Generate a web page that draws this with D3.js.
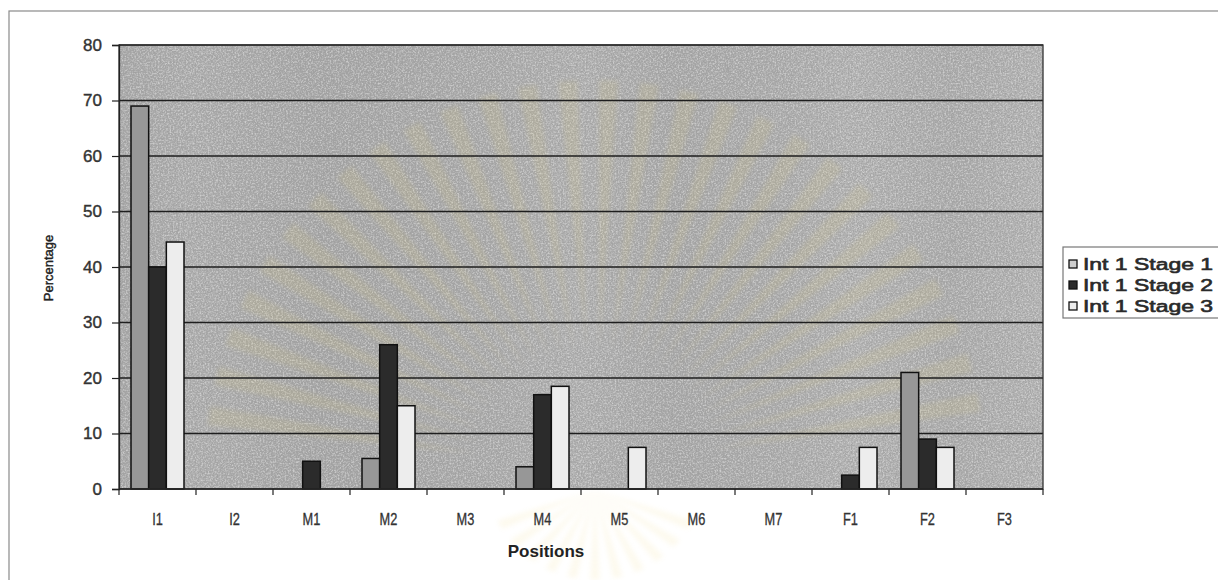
<!DOCTYPE html>
<html>
<head>
<meta charset="utf-8">
<script src="https://cdn.jsdelivr.net/npm/d3@7"></script>
<style>
    body { margin: 0; background: #fff; }
    svg { display: block; font-family: "Liberation Sans", Arial, sans-serif; }
</style>
</head>
<body>
<div id="chart"></div>
<script>
// 数据
var positions = ['I1', 'I2', 'M1', 'M2', 'M3', 'M4', 'M5', 'M6', 'M7', 'F1', 'F2', 'F3'];
var seriesNames = ['Int 1 Stage 1', 'Int 1 Stage 2', 'Int 1 Stage 3'];
var stage1 = [69, 0, 0, 5.5, 0, 4, 0, 0, 0, 0, 21, 0];
var stage2 = [40, 0, 5, 26, 0, 17, 0, 0, 0, 2.5, 9, 0];
var stage3 = [44.5, 0, 0, 15, 0, 18.5, 7.5, 0, 0, 7.5, 7.5, 0];
var yTicks = [0, 10, 20, 30, 40, 50, 60, 70, 80];
var seriesColors = ['#979797', '#2b2b2b', '#ededed'];

var W = 1218, H = 580;
var plot = {left: 119, top: 45, right: 1043, bottom: 489};

var svg = d3.select('#chart').append('svg')
    .attr('width', W)
    .attr('height', H);

var defs = svg.append('defs');
// 扫描噪点（暗）
var f = defs.append('filter').attr('id', 'noise').attr('x', 0).attr('y', 0).attr('width', '100%').attr('height', '100%');
f.append('feTurbulence').attr('type', 'fractalNoise').attr('baseFrequency', 0.8).attr('numOctaves', 2).attr('seed', 3).attr('result', 'n');
f.append('feColorMatrix').attr('in', 'n').attr('type', 'matrix')
    .attr('values', '0 0 0 0 0.35  0 0 0 0 0.35  0 0 0 0 0.35  2.6 0 0 0 -1.05');
// 扫描噪点（亮）
var f2 = defs.append('filter').attr('id', 'noise2').attr('x', 0).attr('y', 0).attr('width', '100%').attr('height', '100%');
f2.append('feTurbulence').attr('type', 'fractalNoise').attr('baseFrequency', 0.6).attr('numOctaves', 2).attr('seed', 11).attr('result', 'n');
f2.append('feColorMatrix').attr('in', 'n').attr('type', 'matrix')
    .attr('values', '0 0 0 0 0.9  0 0 0 0 0.9  0 0 0 0 0.9  0 2.6 0 0 -1.1');
// 水印模糊
defs.append('filter').attr('id', 'blur')
    .append('feGaussianBlur').attr('stdDeviation', 2.5);

// 竖向亮带
var grad = defs.append('linearGradient').attr('id', 'bands');
[[0, '#a4a4a4'], [0.08, '#ababab'], [0.22, '#a2a2a2'], [0.4, '#a7a7a7'], [0.5, '#aeaeae'],
 [0.6, '#a5a5a5'], [0.72, '#a9a9a9'], [0.8, '#b1b1b1'], [0.9, '#a8a8a8'], [1, '#b2b2b2']]
    .forEach(function (s) {
        grad.append('stop').attr('offset', s[0]).attr('stop-color', s[1]);
    });

// 外框
svg.append('rect')
    .attr('x', 9).attr('y', 11)
    .attr('width', 1240).attr('height', 620)
    .attr('fill', 'none').attr('stroke', '#8a8a8a').attr('stroke-width', 1.2);

var x = d3.scaleBand().domain(positions).range([plot.left, plot.right]);
var xInner = d3.scaleBand().domain(d3.range(3)).range([12, x.bandwidth() - 12]);
var y = d3.scaleLinear().domain([0, 80]).range([plot.bottom, plot.top]);

// 绘图区背景
var bgW = plot.right - plot.left, bgH = plot.bottom - plot.top;
svg.append('rect')
    .attr('x', plot.left).attr('y', plot.top)
    .attr('width', bgW).attr('height', bgH)
    .attr('fill', 'url(#bands)');
svg.append('rect')
    .attr('x', plot.left).attr('y', plot.top)
    .attr('width', bgW).attr('height', bgH)
    .attr('filter', 'url(#noise)');
svg.append('rect')
    .attr('x', plot.left).attr('y', plot.top)
    .attr('width', bgW).attr('height', bgH)
    .attr('opacity', 0.5)
    .attr('filter', 'url(#noise2)');

// 水印光芒
var wm = svg.append('g').attr('opacity', 0.13).attr('filter', 'url(#blur)');
var cx = 595, cy = 470;
for (var a = -172; a <= -8; a += 6) {
    var r1 = 120, r2 = 390;
    var t1 = (a - 1.4) * Math.PI / 180, t2 = (a + 1.4) * Math.PI / 180;
    wm.append('path')
        .attr('d', 'M' + (cx + r1 * Math.cos(a * Math.PI / 180)) + ',' + (cy + r1 * Math.sin(a * Math.PI / 180)) +
            'L' + (cx + r2 * Math.cos(t1)) + ',' + (cy + r2 * Math.sin(t1)) +
            'L' + (cx + r2 * Math.cos(t2)) + ',' + (cy + r2 * Math.sin(t2)) + 'Z')
        .attr('fill', '#e0cc70');
}
for (var b = 30; b <= 150; b += 12) {
    var s2 = 110;
    var u1 = (b - 2.5) * Math.PI / 180, u2 = (b + 2.5) * Math.PI / 180;
    wm.append('path')
        .attr('d', 'M' + cx + ',' + (cy + 20) +
            'L' + (cx + s2 * Math.cos(u1)) + ',' + (cy + s2 * Math.sin(u1)) +
            'L' + (cx + s2 * Math.cos(u2)) + ',' + (cy + s2 * Math.sin(u2)) + 'Z')
        .attr('fill', '#f0d880');
}

// 网格线
svg.append('g')
    .selectAll('line')
    .data(yTicks.slice(1))
    .join('line')
    .attr('x1', plot.left).attr('x2', plot.right)
    .attr('y1', function (d) { return y(d); })
    .attr('y2', function (d) { return y(d); })
    .attr('stroke', '#1e1e1e').attr('stroke-width', 1.4);

// 柱
var series = [stage1, stage2, stage3];
series.forEach(function (vals, si) {
    svg.append('g')
        .selectAll('rect')
        .data(vals.map(function (v, i) { return {cat: positions[i], v: v}; }).filter(function (d) { return d.v > 0; }))
        .join('rect')
        .attr('x', function (d) { return x(d.cat) + xInner(si); })
        .attr('y', function (d) { return y(d.v); })
        .attr('width', xInner.bandwidth())
        .attr('height', function (d) { return y(0) - y(d.v); })
        .attr('fill', seriesColors[si])
        .attr('stroke', '#111')
        .attr('stroke-width', 1.5);
});

// 绘图区边框
svg.append('rect')
    .attr('x', plot.left).attr('y', plot.top)
    .attr('width', bgW).attr('height', bgH)
    .attr('fill', 'none').attr('stroke', '#333').attr('stroke-width', 1.3);

// 坐标轴
var yAxis = d3.axisLeft(y).tickValues(yTicks).tickSize(7).tickPadding(10);
var gy = svg.append('g')
    .attr('transform', 'translate(' + plot.left + ',0)')
    .call(yAxis);
gy.select('.domain').attr('stroke', '#222').attr('stroke-width', 1.3);
gy.selectAll('.tick line').attr('stroke', '#222').attr('stroke-width', 1.2);
gy.selectAll('text')
    .attr('font-size', 17).attr('fill', '#333')
    .attr('stroke', '#333').attr('stroke-width', 0.4)
    .attr('font-family', '"Liberation Sans", Arial, sans-serif');

var gx = svg.append('g')
    .attr('transform', 'translate(0,' + plot.bottom + ')');
gx.append('line')
    .attr('x1', plot.left).attr('x2', plot.right)
    .attr('stroke', '#222').attr('stroke-width', 1.3);
gx.selectAll('.tk')
    .data(positions.concat(['end']))
    .join('line')
    .attr('class', 'tk')
    .attr('x1', function (d, i) { return plot.left + i * x.bandwidth(); })
    .attr('x2', function (d, i) { return plot.left + i * x.bandwidth(); })
    .attr('y1', 0).attr('y2', 6)
    .attr('stroke', '#222').attr('stroke-width', 1.2);
gx.selectAll('text')
    .data(positions)
    .join('text')
    .attr('x', function (d) { return x(d) + x.bandwidth() / 2; })
    .attr('y', 36)
    .attr('text-anchor', 'middle')
    .attr('font-size', 16)
    .attr('fill', '#333')
    .attr('stroke', '#333').attr('stroke-width', 0.3)
    .attr('transform', function (d) {
        var cxT = x(d) + x.bandwidth() / 2;
        return 'translate(' + cxT + ',0) scale(0.8,1) translate(' + (-cxT) + ',0)';
    })
    .text(function (d) { return d; });

// 轴标题
svg.append('text')
    .attr('x', 546).attr('y', 557)
    .attr('text-anchor', 'middle')
    .attr('font-size', 17).attr('font-weight', 'bold').attr('fill', '#222')
    .text('Positions');

svg.append('text')
    .attr('transform', 'translate(53,268) rotate(-90)')
    .attr('text-anchor', 'middle')
    .attr('font-size', 13).attr('fill', '#222')
    .attr('stroke', '#222').attr('stroke-width', 0.4)
    .text('Percentage');

// 图例
var lg = svg.append('g').attr('transform', 'translate(1063,247)');
lg.append('rect')
    .attr('x', 0).attr('y', 0).attr('width', 200).attr('height', 71)
    .attr('fill', '#fff').attr('stroke', '#777').attr('stroke-width', 1.2);
seriesNames.forEach(function (name, i) {
    var cyL = 17 + i * 21;
    lg.append('rect')
        .attr('x', 6).attr('y', cyL - 4)
        .attr('width', 8).attr('height', 8)
        .attr('fill', i === 0 ? '#cfcfcf' : seriesColors[i])
        .attr('stroke', '#111').attr('stroke-width', 1.3);
    lg.append('text')
        .attr('x', 20).attr('y', cyL + 6)
        .attr('font-size', 16).attr('fill', '#2a2a2a')
        .attr('stroke', '#2a2a2a').attr('stroke-width', 0.6)
        .attr('textLength', 130).attr('lengthAdjust', 'spacingAndGlyphs')
        .text(name);
});
</script>
</body>
</html>
